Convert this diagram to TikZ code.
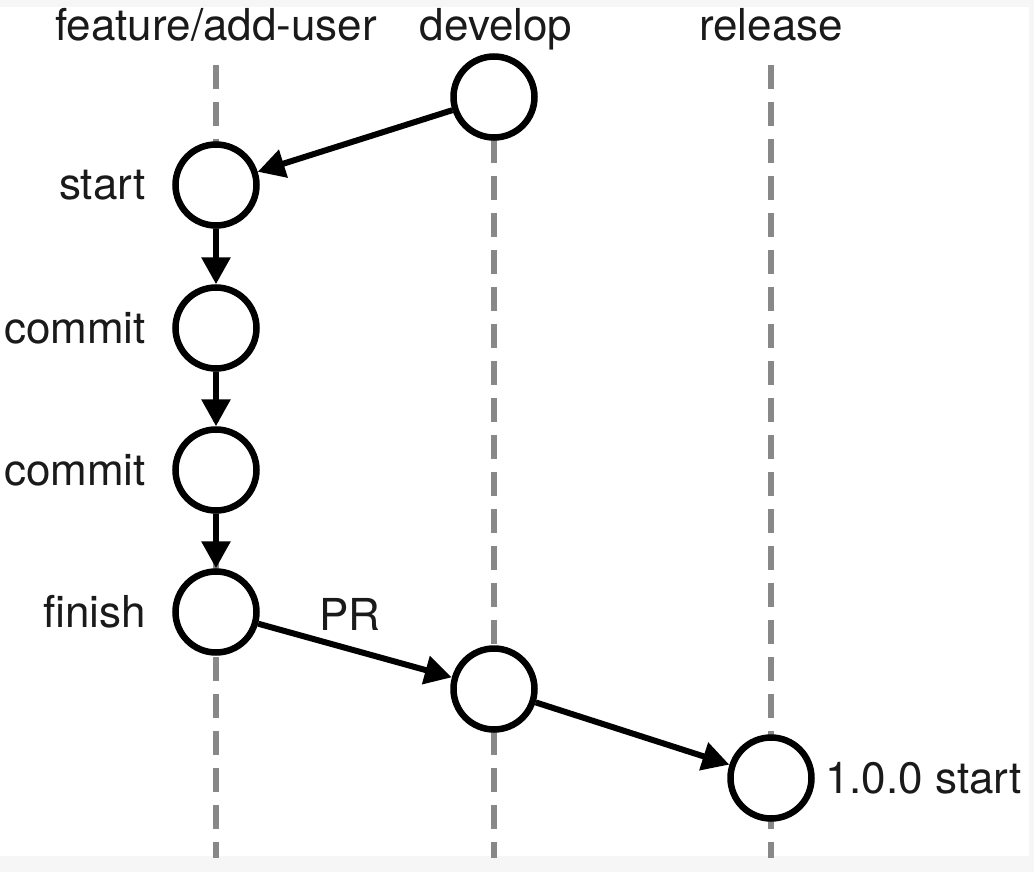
\documentclass[tikz,border=0pt]{standalone}
\usepackage{fontspec}
\setmainfont{TeX Gyre Heros}
\usetikzlibrary{arrows.meta}
\definecolor{lanegray}{HTML}{888888}
\definecolor{txt}{HTML}{1A1A1A}
\definecolor{edgegray}{HTML}{F6F6F6}
\begin{document}
\begin{tikzpicture}[x=1pt,y=-1pt,
  lane/.style={draw=lanegray,line width=6.5pt,dash pattern=on 24pt off 13pt},
  commitnode/.style={circle,draw=black,fill=white,line width=6.5pt,minimum size=81pt,inner sep=0pt},
  flow/.style={draw=black,line width=6pt,-{Triangle[length=27pt,width=28pt]}},
  lbl/.style={font=\fontsize{44}{50}\selectfont,text=txt,inner sep=0pt}]
\fill[edgegray] (0,0) rectangle (1034,872);
\fill[white] (0,7) rectangle (1029,856);
\useasboundingbox (0,0) rectangle (1034,872);
% lanes
\coordinate (fTop) at (216,65); \coordinate (fBot) at (216,858);
\coordinate (dTop) at (494,65); \coordinate (dBot) at (494,858);
\coordinate (rTop) at (771,65); \coordinate (rBot) at (771,858);
\draw[lane] (fTop) -- (fBot);
\draw[lane] (dTop) -- (dBot);
\draw[lane] (rTop) -- (rBot);
% headers
\node[lbl,anchor=base] (hf) at (216,41) {feature/add-user};
\node[lbl,anchor=base] (hd) at (496,41) {develop};
\node[lbl,anchor=base] (hr) at (771,41) {release};
% commits
\node[commitnode] (d1) at (494,97) {};
\node[commitnode] (s) at (216,185) {};
\node[commitnode] (c1) at (216,328) {};
\node[commitnode] (c2) at (216,470) {};
\node[commitnode] (f) at (216,612) {};
\node[commitnode] (d2) at (494,689) {};
\node[commitnode] (r1) at (771,778) {};
% labels
\node[lbl,anchor=base east] (ls) at (146,200) {start};
\node[lbl,anchor=base east] (lc1) at (146,343) {commit};
\node[lbl,anchor=base east] (lc2) at (146,485) {commit};
\node[lbl,anchor=base east] (lf) at (146,627) {finish};
\node[lbl,anchor=base west] (lr) at (825,793) {1.0.0 start};
\node[lbl,anchor=base] (pr) at (350,630) {PR};
% connectors
\draw[flow] (d1) -- (s);
\draw[flow] (s) -- (c1);
\draw[flow] (c1) -- (c2);
\draw[flow] (c2) -- (f);
\draw[flow] (f) -- (d2);
\draw[flow] (d2) -- (r1);
\end{tikzpicture}
\end{document}
